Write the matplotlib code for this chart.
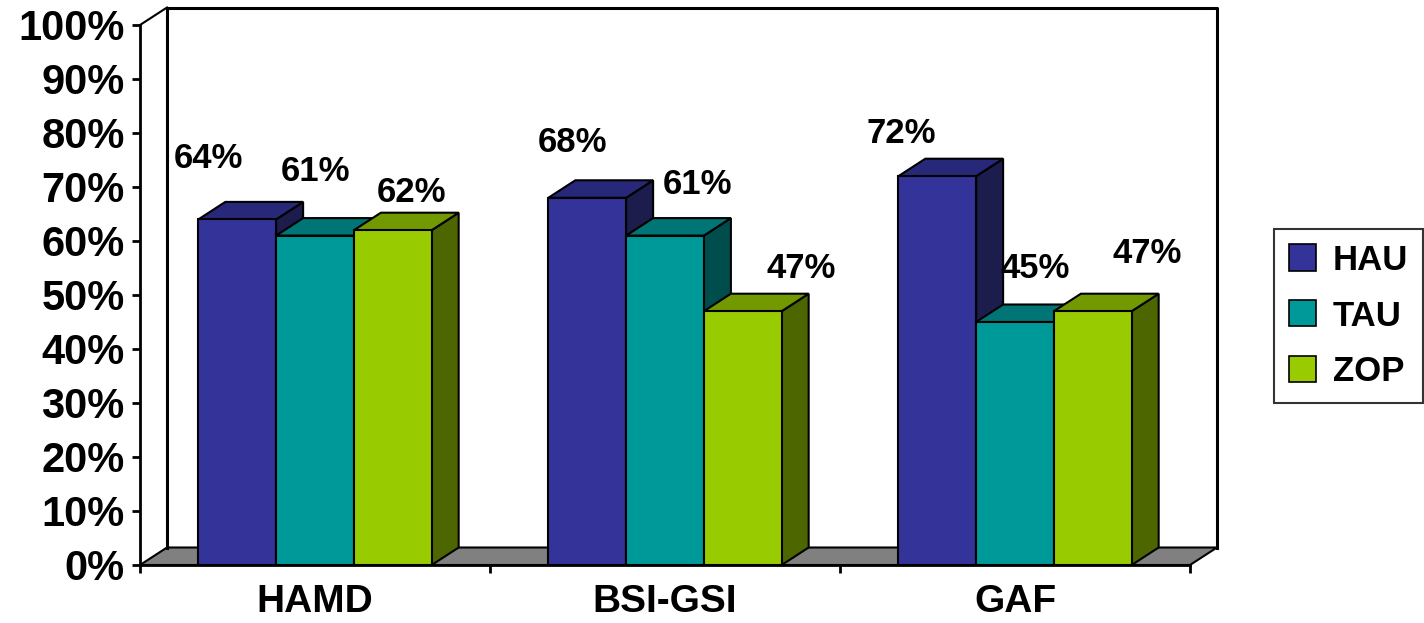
import matplotlib
matplotlib.use('Agg')
import matplotlib.pyplot as plt
from matplotlib.patches import Polygon, Patch
from matplotlib.ticker import FuncFormatter, FixedLocator

plt.rcParams['font.family'] = ['Liberation Sans', 'DejaVu Sans']
plt.rcParams['font.weight'] = 'bold'

# data
categories = ['HAMD', 'BSI-GSI', 'GAF']
series_names = ['HAU', 'TAU', 'ZOP']
hau = [64, 68, 72]
tau = [61, 61, 45]
zop = [62, 47, 47]
values = [hau, tau, zop]

front_colors = ['#333399', '#009999', '#99cc00']
top_colors = ['#28287a', '#007575', '#739900']
side_colors = ['#1c1c4d', '#004d4d', '#4d6600']

# label nudges (pixels) relative to the top of each bar front
label_dx = [[-29, -15, -36], [1, 33, 20], [19, 58, 54]]
label_dy = [[61, 55, 43], [64, 51, 53], [38, 43, 58]]

n_cat = len(categories)
width = 1 / 4.5
dx = 27 / 350.0      # depth offset in x data units
dy = 17.5 / 5.4      # depth offset in y data units (percent)

fig = plt.figure(figsize=(14.24, 6.23), dpi=100)
ax = fig.add_axes([140 / 1424, 58 / 623, 1050 / 1424, 540 / 623])
ax.set_xlim(-0.5, n_cat - 0.5)
ax.set_ylim(0, 100)

# floor and back walls
x_lo, x_hi = -0.5, n_cat - 0.5
ax.add_patch(Polygon([(x_lo, 0), (x_hi, 0), (x_hi + dx, dy), (x_lo + dx, dy)],
                     closed=True, facecolor='#808080', edgecolor='black',
                     linewidth=1.5, zorder=1, clip_on=False))
ax.plot([x_lo + dx, x_lo + dx, x_hi + dx, x_hi + dx], [dy, 100 + dy, 100 + dy, dy],
        color='black', linewidth=2.2, zorder=1, clip_on=False)
ax.plot([x_lo, x_lo + dx], [100, 100 + dy], color='black', linewidth=1.5,
        zorder=1, clip_on=False)

# bars, left to right so each one covers the side of the previous
z = 3
for i in range(n_cat):
    for j in range(len(series_names)):
        h = values[j][i]
        x0 = i - 1.5 * width + j * width
        x1 = x0 + width
        ax.add_patch(Polygon([(x1, 0), (x1, h), (x1 + dx, h + dy), (x1 + dx, dy)],
                             closed=True, facecolor=side_colors[j], edgecolor='black',
                             linewidth=1.5, zorder=z, clip_on=False))
        ax.add_patch(Polygon([(x0, h), (x1, h), (x1 + dx, h + dy), (x0 + dx, h + dy)],
                             closed=True, facecolor=top_colors[j], edgecolor='black',
                             linewidth=1.5, zorder=z + 0.1, clip_on=False))
        ax.bar(x0 + width / 2, h, width=width, color=front_colors[j], edgecolor='black',
               linewidth=1.5, zorder=z + 0.2)
        ax.annotate(f'{h}%', (x0 + width / 2, h), xytext=(label_dx[j][i], label_dy[j][i]),
                    textcoords='offset pixels', ha='center', va='center',
                    fontsize=25, fontweight='bold', zorder=20)
        z += 1

# axes
for s in ['top', 'right']:
    ax.spines[s].set_visible(False)
ax.spines['left'].set_linewidth(2)
ax.spines['bottom'].set_linewidth(2)
ax.spines['left'].set_zorder(50)
ax.spines['bottom'].set_zorder(50)

ax.set_yticks(range(0, 101, 10))
ax.yaxis.set_major_formatter(FuncFormatter(lambda v, p: f'{int(v)}%'))
ax.tick_params(axis='y', length=6, width=2, pad=5, labelsize=30)
ax.set_xticks(range(n_cat))
ax.set_xticklabels(categories)
ax.xaxis.set_minor_locator(FixedLocator([k - 0.5 for k in range(n_cat + 1)]))
ax.tick_params(axis='x', which='major', length=0, pad=14, labelsize=28)
ax.tick_params(axis='x', which='minor', length=6, width=2)
for lbl in ax.get_xticklabels() + ax.get_yticklabels():
    lbl.set_fontweight('bold')

handles = [Patch(facecolor=c, edgecolor='black', linewidth=1.2) for c in front_colors]
leg = ax.legend(handles, series_names, loc='center left',
                bbox_to_anchor=(1274 / 1424, 1 - 316 / 623), bbox_transform=fig.transFigure,
                borderaxespad=0, fancybox=False, frameon=True,
                handlelength=0.78, handleheight=0.78, handletextpad=0.49,
                labelspacing=0.66, borderpad=0.43, prop={'weight': 'bold', 'size': 25})
leg.get_frame().set_edgecolor('black')
leg.get_frame().set_linewidth(1.5)

fig.savefig('out.png', dpi=100)
